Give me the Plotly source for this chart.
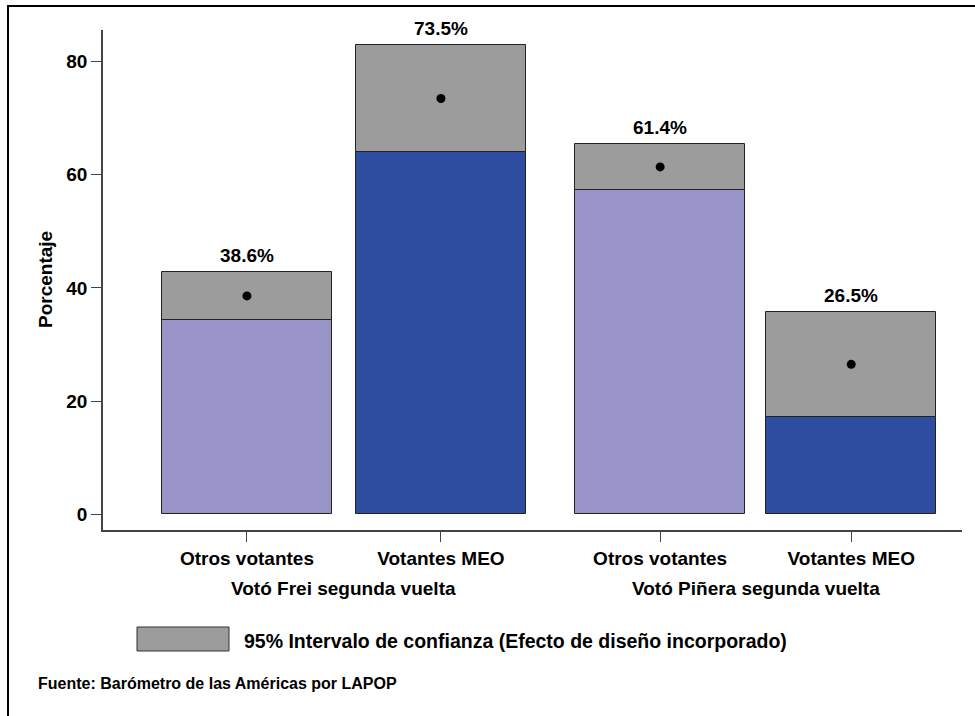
import plotly.graph_objects as go

# ---- data ----
categories = ["Otros votantes", "Votantes MEO", "Otros votantes", "Votantes MEO"]
groups = ["Votó Frei segunda vuelta", "Votó Piñera segunda vuelta"]
means = [38.6, 73.5, 61.4, 26.5]
ci_lower = [34.4, 64.1, 57.3, 17.2]
ci_upper = [42.8, 82.9, 65.5, 35.8]
y_ticks = [0, 20, 40, 60, 80]

# ---- layout constants ----
positions = [0, 1, 2.13, 3.115]
bar_width = 0.876
bar_colors = ["#9894C8", "#2E4DA0", "#9894C8", "#2E4DA0"]
ci_color = "#9C9C9C"
FONT = "Liberation Sans, Arial, sans-serif"
FS = 19

W, H = 975, 716
L, R, T, B = 103, 13, 30, 186
pw, ph = W - L - R, H - T - B


def px_x(px):
    return (px - L) / pw


def px_y(py):
    return (H - B - py) / ph


fig = go.Figure()

# colored bars (0 -> lower CI)
fig.add_trace(go.Bar(
    x=positions, y=ci_lower, width=bar_width,
    marker=dict(color=bar_colors, line=dict(color="#222222", width=1)),
    showlegend=False, hoverinfo="skip",
))
# CI boxes
fig.add_trace(go.Bar(
    x=positions, y=[u - l for u, l in zip(ci_upper, ci_lower)], base=ci_lower,
    width=bar_width,
    marker=dict(color=ci_color, line=dict(color="#222222", width=1)),
    showlegend=False, hoverinfo="skip",
))
# mean dots
fig.add_trace(go.Scatter(
    x=positions, y=means, mode="markers",
    marker=dict(color="black", size=9),
    showlegend=False, hoverinfo="skip",
))

annotations = []
for xp, up, m in zip(positions, ci_upper, means):
    annotations.append(dict(
        x=xp, y=up, xref="x", yref="y", text=f"{m:.1f}%",
        showarrow=False, yanchor="bottom", yshift=4,
        font=dict(family=FONT, size=FS, color="black", weight="bold"),
    ))
# group labels
for gi, g in enumerate(groups):
    cx = (positions[2 * gi] + positions[2 * gi + 1]) / 2
    annotations.append(dict(
        x=cx, y=px_y(588), xref="x", yref="paper", text=g,
        showarrow=False, yanchor="middle", xanchor="center",
        font=dict(family=FONT, size=FS, color="black", weight="bold"),
    ))
# y axis title
annotations.append(dict(
    x=px_x(45), y=0.5, xref="paper", yref="paper", text="Porcentaje",
    textangle=-90, showarrow=False, xanchor="center", yanchor="middle",
    font=dict(family=FONT, size=FS, color="black", weight="bold"),
))
# legend text
annotations.append(dict(
    x=px_x(242), y=px_y(641), xref="paper", yref="paper",
    text="95% Intervalo de confianza (Efecto de diseño incorporado)",
    showarrow=False, xanchor="left", yanchor="middle",
    font=dict(family=FONT, size=19.5, color="black", weight="bold"),
))
# source
annotations.append(dict(
    x=px_x(36), y=px_y(683), xref="paper", yref="paper",
    text="Fuente: Barómetro de las Américas por LAPOP",
    showarrow=False, xanchor="left", yanchor="middle",
    font=dict(family=FONT, size=16, color="black", weight="bold"),
))

shapes = [
    # legend swatch
    dict(type="rect", xref="paper", yref="paper",
         x0=px_x(137), x1=px_x(229), y0=px_y(651), y1=px_y(627),
         fillcolor=ci_color, line=dict(color="#333333", width=1)),
    # outer frame
    dict(type="rect", xref="paper", yref="paper",
         x0=px_x(8), x1=px_x(1200), y0=px_y(1000), y1=px_y(6),
         fillcolor="rgba(0,0,0,0)", line=dict(color="black", width=2)),
]

fig.update_layout(
    width=W, height=H,
    margin=dict(l=L, r=R, t=T, b=B),
    paper_bgcolor="white", plot_bgcolor="white",
    barmode="overlay", bargap=0,
    annotations=annotations, shapes=shapes,
    font=dict(family=FONT, size=FS, color="black"),
)
fig.update_xaxes(
    range=[-0.742, 3.686],
    tickvals=positions, ticktext=categories,
    ticks="outside", ticklen=10, tickcolor="#444444", tickwidth=1,
    showline=True, linecolor="#444444", linewidth=1.5,
    showgrid=False, zeroline=False,
    tickfont=dict(family=FONT, size=FS, color="black", weight="bold"),
)
fig.update_yaxes(
    range=[-2.78, 85.6],
    tickvals=y_ticks,
    ticks="outside", ticklen=10, tickcolor="#444444", tickwidth=1,
    showline=True, linecolor="#444444", linewidth=1.5,
    showgrid=False, zeroline=False,
    tickfont=dict(family=FONT, size=FS, color="black", weight="bold"),
)

fig.write_html(
    "out.html",
    config={"displayModeBar": False},
    post_script="document.body.style.margin='0';document.body.style.padding='0';",
)
